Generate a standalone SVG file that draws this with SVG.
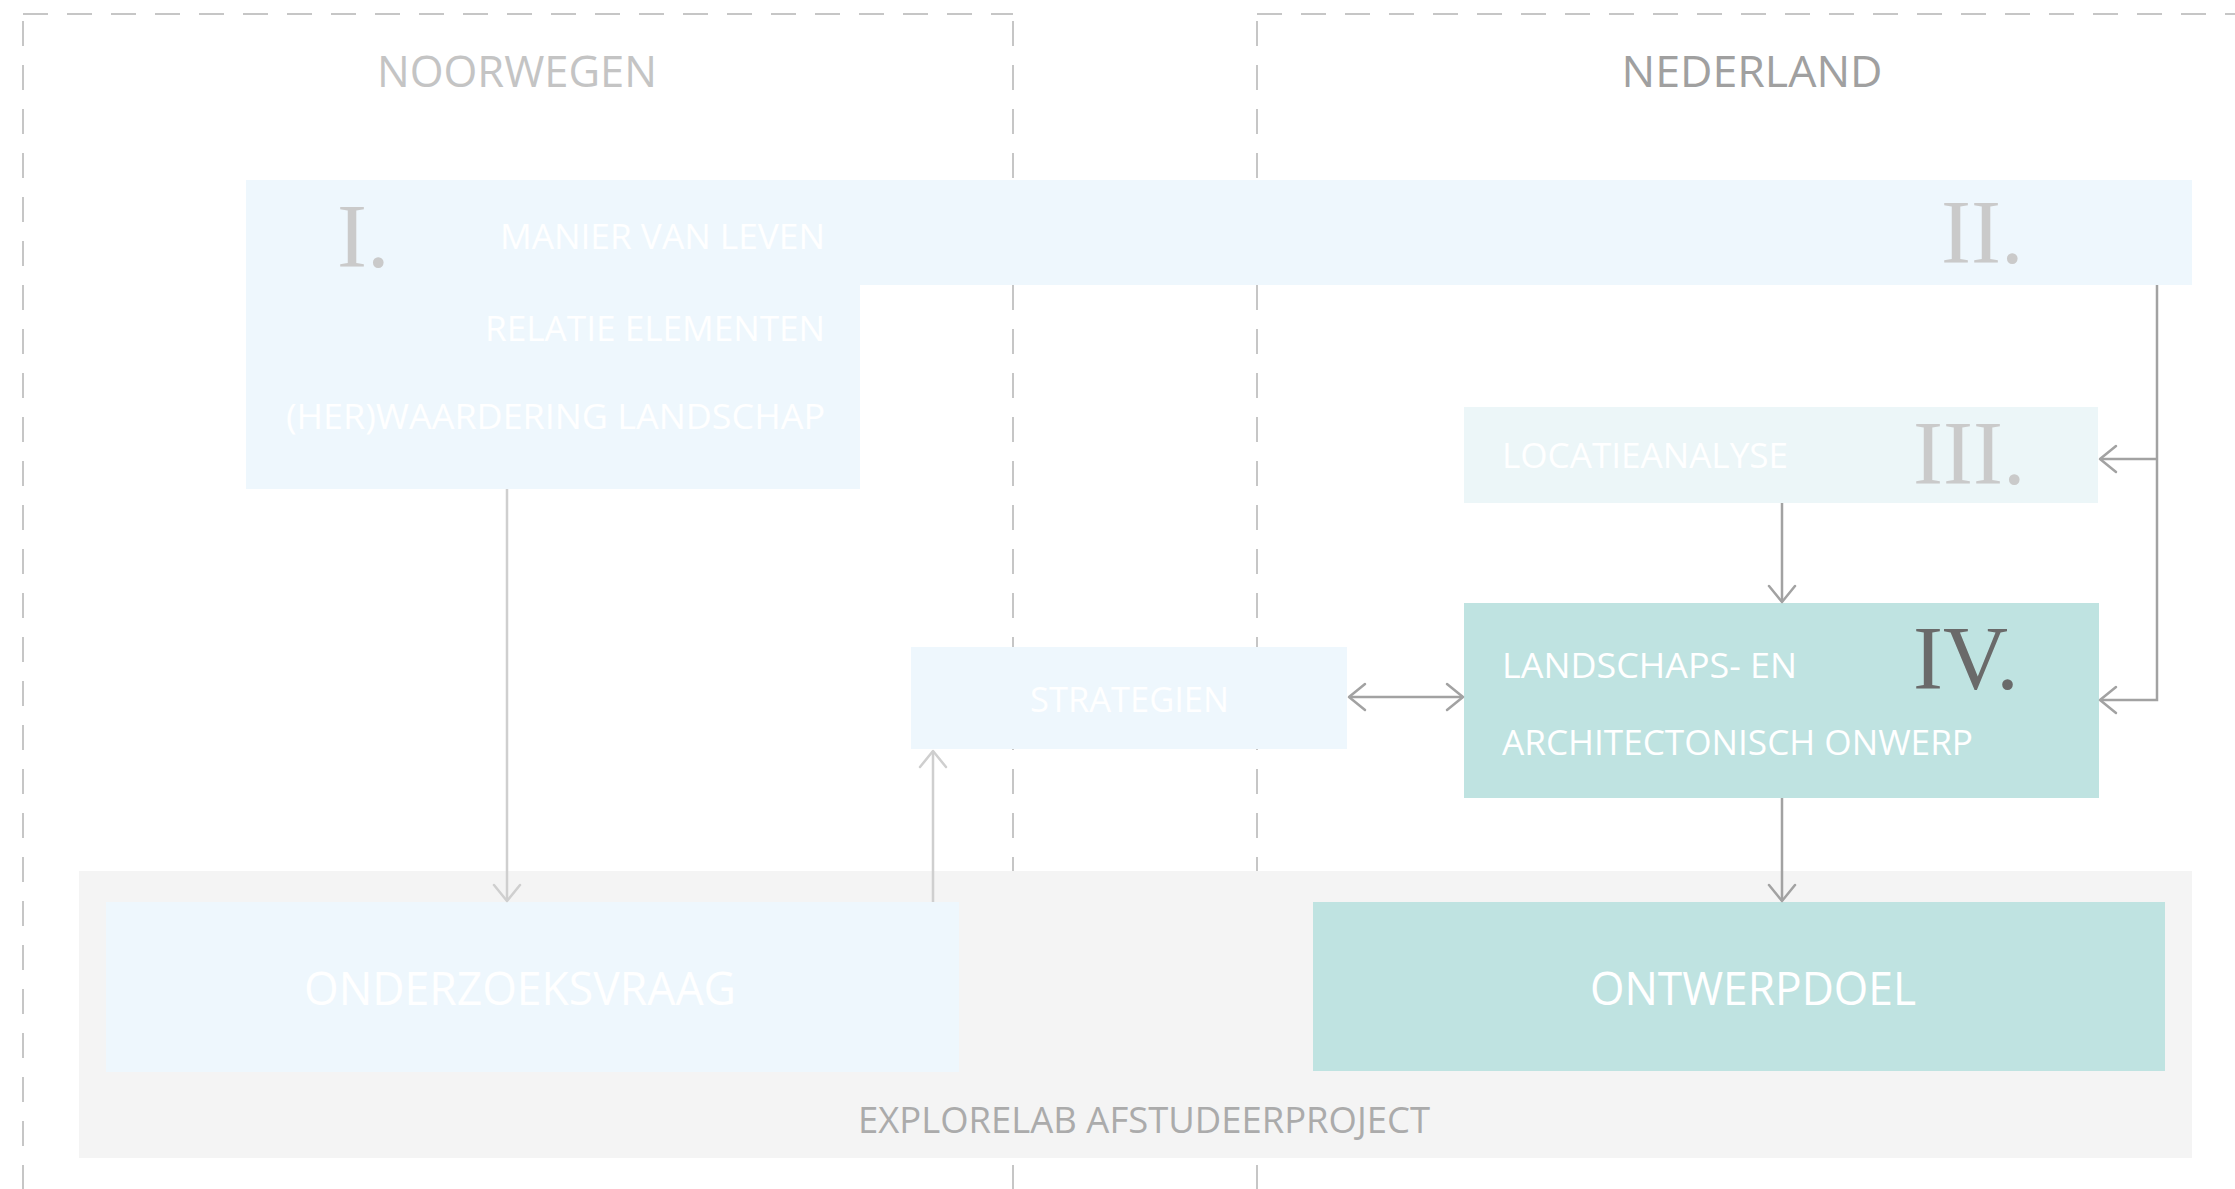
<svg xmlns="http://www.w3.org/2000/svg" width="2235" height="1189" viewBox="0 0 2235 1189">
<style>
.sans{font-family:"Open Sans","Liberation Sans",sans-serif}
.num{font-family:"Liberation Serif","DejaVu Serif",serif;font-size:90px}
.dash{stroke:#c6c6c6;stroke-width:2;stroke-dasharray:25 19;fill:none}
.lb{fill:#eef7fd}
.lt{fill:#ecf6f8}
.teal{fill:#bfe3e1}
.w{fill:#ffffff}
.cl{stroke:#cfcfcf;stroke-width:2.5;fill:none}
.cd{stroke:#a2a2a2;stroke-width:2.5;fill:none}
</style>
<defs>
<marker id="al" viewBox="-20 -16 24 32" refX="0" refY="0" markerWidth="24" markerHeight="32" markerUnits="userSpaceOnUse" orient="auto-start-reverse">
<path d="M-16,-13 L0,0 L-16,13" fill="none" stroke="#cfcfcf" stroke-width="2.5" stroke-linecap="round" stroke-linejoin="round"/>
</marker>
<marker id="ad" viewBox="-20 -16 24 32" refX="0" refY="0" markerWidth="24" markerHeight="32" markerUnits="userSpaceOnUse" orient="auto-start-reverse">
<path d="M-16,-13 L0,0 L-16,13" fill="none" stroke="#a2a2a2" stroke-width="2.5" stroke-linecap="round" stroke-linejoin="round"/>
</marker>
</defs>
<rect width="2235" height="1189" fill="#ffffff"/>
<g id="regions">
<line class="dash" x1="23" y1="14" x2="1013" y2="14"/>
<line class="dash" x1="1257" y1="14" x2="2235" y2="14"/>
<line class="dash" x1="23" y1="14" x2="23" y2="1189" stroke-dashoffset="-7"/>
<line class="dash" x1="1013" y1="14" x2="1013" y2="1189" stroke-dashoffset="-7"/>
<line class="dash" x1="1257" y1="14" x2="1257" y2="1189" stroke-dashoffset="-7"/>
<text class="sans" x="517" y="87" font-size="44" text-anchor="middle" fill="#c4c4c4" textLength="280" lengthAdjust="spacingAndGlyphs">NOORWEGEN</text>
<text class="sans" x="1752" y="87" font-size="44" text-anchor="middle" fill="#a0a0a0" textLength="261" lengthAdjust="spacingAndGlyphs">NEDERLAND</text>
</g>
<g id="node-explorelab">
<rect x="79" y="871" width="2113" height="287" fill="#f4f4f4"/>
<text class="sans" x="858" y="1133" font-size="36" fill="#ababab" textLength="572" lengthAdjust="spacingAndGlyphs">EXPLORELAB AFSTUDEERPROJECT</text>
</g>
<g id="node-I">
<rect class="lb" x="246" y="180" width="614" height="309"/>
<text class="num" x="337" y="267" fill="#cacaca">I.</text>
<text class="sans w" x="825" y="249" font-size="35" text-anchor="end" textLength="325" lengthAdjust="spacingAndGlyphs">MANIER VAN LEVEN</text>
<text class="sans w" x="825" y="341" font-size="35" text-anchor="end" textLength="340" lengthAdjust="spacingAndGlyphs">RELATIE ELEMENTEN</text>
<text class="sans w" x="825" y="429" font-size="35" text-anchor="end" textLength="539" lengthAdjust="spacingAndGlyphs">(HER)WAARDERING LANDSCHAP</text>
</g>
<g id="node-II">
<rect class="lb" x="859" y="180" width="1333" height="105"/>
<text class="num" x="1941" y="263" fill="#cacaca">II.</text>
</g>
<g id="node-III">
<rect class="lt" x="1464" y="407" width="634" height="96"/>
<text class="sans w" x="1502" y="468" font-size="35" textLength="286" lengthAdjust="spacingAndGlyphs">LOCATIEANALYSE</text>
<text class="num" x="1913" y="484" fill="#cacaca">III.</text>
</g>
<g id="node-IV">
<rect class="teal" x="1464" y="603" width="635" height="195"/>
<text class="sans w" x="1502" y="678" font-size="35" textLength="295" lengthAdjust="spacingAndGlyphs">LANDSCHAPS- EN</text>
<text class="sans w" x="1502" y="755" font-size="35" textLength="471" lengthAdjust="spacingAndGlyphs">ARCHITECTONISCH ONWERP</text>
<text class="num" x="1913" y="689" fill="#6a6a6a">IV.</text>
</g>
<g id="node-strategien">
<rect class="lb" x="911" y="647" width="436" height="102"/>
<text class="sans w" x="1030" y="712" font-size="35" textLength="199" lengthAdjust="spacingAndGlyphs">STRATEGIEN</text>
</g>
<g id="node-onderzoeksvraag">
<rect class="lb" x="106" y="902" width="853" height="170"/>
<text class="sans w" x="520" y="1005" font-size="45" text-anchor="middle" textLength="432" lengthAdjust="spacingAndGlyphs">ONDERZOEKSVRAAG</text>
</g>
<g id="node-ontwerpdoel">
<rect class="teal" x="1313" y="902" width="852" height="169"/>
<text class="sans w" x="1753" y="1005" font-size="45" text-anchor="middle" textLength="326" lengthAdjust="spacingAndGlyphs">ONTWERPDOEL</text>
</g>
<g id="connectors">
<path class="cl" d="M507,489 V901" marker-end="url(#al)"/>
<path class="cl" d="M933,902 V751" marker-end="url(#al)"/>
<path class="cd" d="M1349,697 H1463" marker-start="url(#ad)" marker-end="url(#ad)"/>
<path class="cd" d="M2157,285 V700 H2100" marker-end="url(#ad)"/>
<path class="cd" d="M2157,459 H2100" marker-end="url(#ad)"/>
<path class="cd" d="M1782,503 V602" marker-end="url(#ad)"/>
<path class="cd" d="M1782,798 V901" marker-end="url(#ad)"/>
</g>
</svg>
